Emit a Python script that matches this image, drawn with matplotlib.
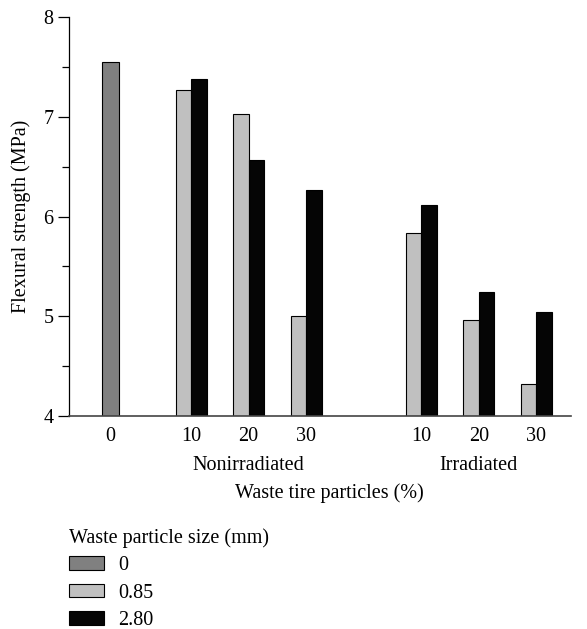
import matplotlib
matplotlib.use("Agg")
import matplotlib.pyplot as plt
from matplotlib.patches import Patch
import matplotlib.transforms as mtransforms

plt.rcParams['font.family'] = ['Liberation Serif', 'DejaVu Serif']

# Data
groups = ["Nonirradiated", "Irradiated"]
tick_labels = ["0", "10", "20", "30", "10", "20", "30"]
control_value = 7.55
nonirr_085 = [7.27, 7.03, 5.00]
nonirr_280 = [7.375, 6.57, 6.27]
irr_085 = [5.83, 4.96, 4.32]
irr_280 = [6.12, 5.24, 5.04]
sizes = ["0", "0.85", "2.80"]
colors = ["#808080", "#c0c0c0", "#050505"]

# category positions
positions = [0.0, 1.4, 2.4, 3.4, 5.4, 6.4, 7.4]
w = 0.27
FS = 14.5

fig = plt.figure(figsize=(5.87, 6.29), dpi=100)
ax = fig.add_axes([69/587, 1-416/629, (571-69)/587, (416-17)/629])

ax.bar([positions[0]], [control_value - 4], bottom=4, width=w * 1.05, color=colors[0],
       edgecolor="black", linewidth=0.8)
g085 = nonirr_085 + irr_085
g280 = nonirr_280 + irr_280
xs = positions[1:]
ax.bar([x - w/2 for x in xs], [v - 4 for v in g085], bottom=4, width=w, color=colors[1],
       edgecolor="black", linewidth=0.8)
ax.bar([x + w/2 for x in xs], [v - 4 for v in g280], bottom=4, width=w, color=colors[2],
       edgecolor="black", linewidth=0.8)

ax.set_ylim(4, 8)
ax.set_xlim(-0.72, 8.0)
ax.set_yticks([4, 5, 6, 7, 8])
ax.set_yticks([4.5, 5.5, 6.5, 7.5], minor=True)
ax.tick_params(axis='y', which='major', length=8, width=0.9, labelsize=FS, pad=3)
ax.tick_params(axis='y', which='minor', length=5, width=0.9)
ax.set_xticks(positions)
ax.set_xticklabels(tick_labels)
ax.tick_params(axis='x', length=0, labelsize=FS, pad=8)

for s in ["top", "right"]:
    ax.spines[s].set_visible(False)
ax.spines["left"].set_linewidth(0.9)
ax.spines["bottom"].set_linewidth(1.2)
ax.spines["bottom"].set_color("#444444")

ax.set_ylabel("Flexural strength (MPa)", fontsize=FS, labelpad=9)

trans = mtransforms.blended_transform_factory(ax.transData, ax.transAxes)
ax.text(positions[2], -(466-416)/399, groups[0], transform=trans, ha="center", va="center", fontsize=FS)
ax.text(positions[5], -(466-416)/399, groups[1], transform=trans, ha="center", va="center", fontsize=FS)

fig.text(329/587, 1-493/629, "Waste tire particles (%)", ha="center", va="center", fontsize=FS)

handles = [Patch(facecolor=c, edgecolor="black", linewidth=0.8) for c in colors]
leg = fig.legend(handles, sizes, title="Waste particle size (mm)", loc="upper left",
                 bbox_to_anchor=(58/587, 1-517/629), frameon=False, fontsize=FS,
                 title_fontsize=FS, handlelength=1.75, handleheight=0.65,
                 labelspacing=0.42, handletextpad=0.7, borderpad=0.55, borderaxespad=0)
leg._legend_box.align = "left"

fig.savefig("out.png", dpi=100)
